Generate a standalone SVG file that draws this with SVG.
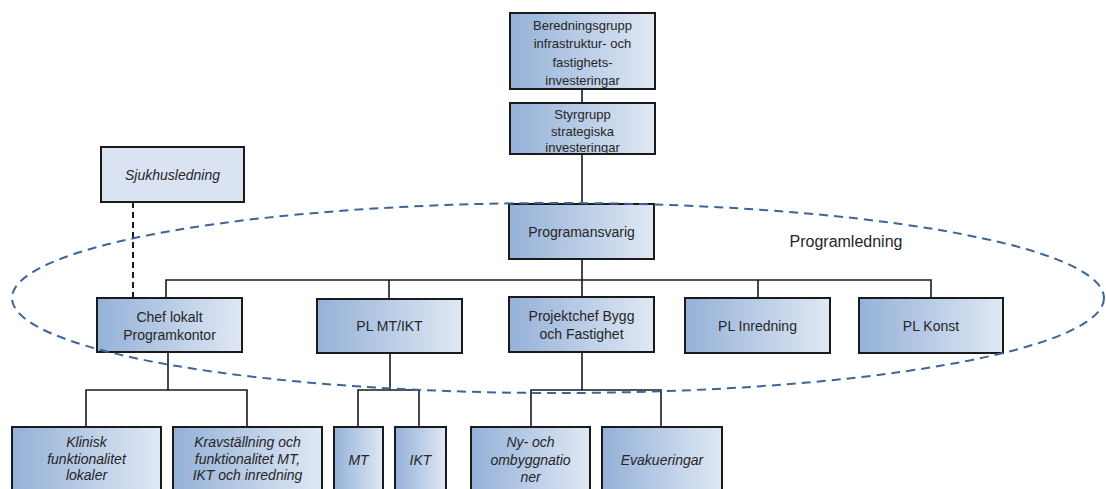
<svg xmlns="http://www.w3.org/2000/svg" width="1106" height="489" viewBox="0 0 1106 489">
<defs>
<linearGradient id="g" x1="0" y1="0" x2="1" y2="0">
<stop offset="0" stop-color="#94b1d8"/>
<stop offset="1" stop-color="#e0e8f4"/>
</linearGradient>
<style>
.box{fill:url(#g);stroke:#1a1a1a;stroke-width:2}
.lite{fill:#dae3f1;stroke:#1a1a1a;stroke-width:2}
text{font-family:"Liberation Sans",Arial,sans-serif;fill:#262626;text-anchor:middle;dominant-baseline:central}
.t13{font-size:13px}
.t14{font-size:14px}
.it{font-size:14px;font-style:italic}
.c{stroke:#1a1a1a;stroke-width:1.6;fill:none}
.d{stroke:#1a1a1a;stroke-width:2;fill:none;stroke-dasharray:6 4}
.ell{fill:none;stroke:#3f6598;stroke-width:2;stroke-dasharray:9 6}
</style>
</defs>
<rect width="1106" height="489" fill="#ffffff"/>
<g id="connectors">
<path class="c" d="M582 89V103M582 154V204M582 259V298"/>
<path class="c" d="M166 298V280H931V298M389 280V299M758 280V298"/>
<path class="c" d="M168 352V390M86 427V390H247V427"/>
<path class="c" d="M390 353V390M358 427V390H419V427"/>
<path class="c" d="M582 352V390M531 427V390H661V427"/>
<path class="d" d="M133 202V298"/>
</g>
<g id="beredningsgrupp">
<rect class="box" x="510" y="13" width="145" height="76"/>
<text class="t13" x="582.5" y="25">Beredningsgrupp</text>
<text class="t13" x="582.5" y="43.5">infrastruktur- och</text>
<text class="t13" x="582.5" y="62">fastighets-</text>
<text class="t13" x="582.5" y="80.5">investeringar</text>
</g>
<g id="styrgrupp">
<rect class="box" x="510" y="103" width="145" height="51"/>
<text class="t13" x="582.5" y="114.5">Styrgrupp</text>
<text class="t13" x="582.5" y="131">strategiska</text>
<text class="t13" x="582.5" y="147.5">investeringar</text>
</g>
<g id="sjukhusledning">
<rect class="lite" x="101" y="147" width="143" height="55"/>
<text class="it" x="172.5" y="175">Sjukhusledning</text>
</g>
<g id="programansvarig">
<rect class="box" x="509" y="204" width="145" height="55"/>
<text class="t14" x="581.5" y="232">Programansvarig</text>
</g>
<g id="chef">
<rect class="box" x="97" y="298" width="145" height="54"/>
<text class="t14" x="169.5" y="317">Chef lokalt</text>
<text class="t14" x="169.5" y="335">Programkontor</text>
</g>
<g id="plmtikt">
<rect class="box" x="317" y="299" width="145" height="54"/>
<text class="t14" x="389.5" y="326">PL MT/IKT</text>
</g>
<g id="projektchef">
<rect class="box" x="509" y="297" width="145" height="55"/>
<text class="t14" x="581.5" y="316">Projektchef Bygg</text>
<text class="t14" x="581.5" y="334">och Fastighet</text>
</g>
<g id="plinredning">
<rect class="box" x="685" y="298" width="145" height="55"/>
<text class="t14" x="757.5" y="326">PL Inredning</text>
</g>
<g id="plkonst">
<rect class="box" x="859" y="298" width="144" height="55"/>
<text class="t14" x="931" y="326">PL Konst</text>
</g>
<g id="klinisk">
<rect class="box" x="12" y="427" width="149" height="72"/>
<text class="it" x="86.5" y="442">Klinisk</text>
<text class="it" x="86.5" y="458.5">funktionalitet</text>
<text class="it" x="86.5" y="475">lokaler</text>
</g>
<g id="kravstallning">
<rect class="box" x="173" y="427" width="149" height="72"/>
<text class="it" x="247.5" y="442">Kravställning och</text>
<text class="it" x="247.5" y="458.5">funktionalitet MT,</text>
<text class="it" x="247.5" y="475">IKT och inredning</text>
</g>
<g id="mt">
<rect class="box" x="334" y="427" width="49" height="72"/>
<text class="it" x="358.5" y="460">MT</text>
</g>
<g id="ikt">
<rect class="box" x="395" y="427" width="51" height="72"/>
<text class="it" x="420.5" y="460">IKT</text>
</g>
<g id="nyoch">
<rect class="box" x="471" y="427" width="119" height="72"/>
<text class="it" x="530.5" y="442">Ny- och</text>
<text class="it" x="530.5" y="459.5">ombyggnatio</text>
<text class="it" x="530.5" y="477">ner</text>
</g>
<g id="evakueringar">
<rect class="box" x="602" y="427" width="120" height="72"/>
<text class="it" x="662" y="460">Evakueringar</text>
</g>
<g id="programledning">
<ellipse class="ell" cx="558" cy="298" rx="546" ry="95"/>
<text x="846" y="241" style="font-size:16px">Programledning</text>
</g>
</svg>
